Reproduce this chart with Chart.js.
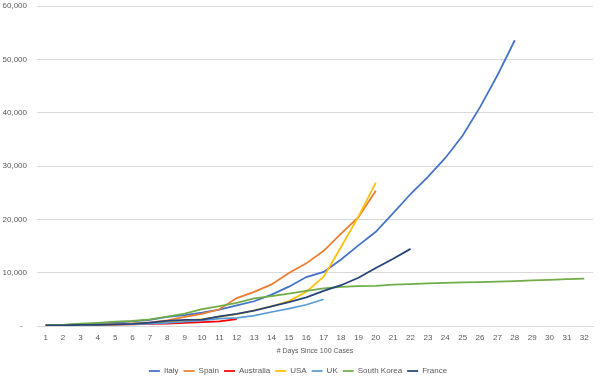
<!DOCTYPE html>
<html>
<head>
<meta charset="utf-8">
<script src="https://cdn.jsdelivr.net/npm/chart.js@4/dist/chart.umd.min.js"></script>
<style>
  html, body { margin: 0; padding: 0; background: #fff; }
  #wrap { width: 600px; height: 380px; }
</style>
</head>
<body>
<div id="wrap"><canvas id="casos"></canvas></div>
<script>
var dias = [1, 2, 3, 4, 5, 6, 7, 8, 9, 10, 11, 12, 13, 14, 15, 16,
  17, 18, 19, 20, 21, 22, 23, 24, 25, 26, 27, 28, 29, 30, 31, 32]

var italy = [155, 229, 322, 453, 655, 888, 1128, 1694, 2036, 2502, 3089, 3858, 4636, 5883,
  7375, 9172, 10149, 12462, 15113, 17660, 21157, 24747, 27980, 31506, 35713, 41035, 47021, 53578]
var spain = [120, 165, 222, 259, 400, 500, 673, 1073, 1695, 2277, 3146, 5232, 6391, 7798,
  9942, 11748, 14100, 17300, 20410, 25374]
var australia = [107, 128, 156, 197, 249, 298, 375, 454, 565, 709, 874, 1286]
var usa = [100, 124, 158, 221, 319, 435, 541, 704, 994, 1301, 1697, 2247, 2943, 3680,
  4663, 6411, 9259, 14800, 20500, 26868]
var uk = [115, 163, 206, 273, 321, 373, 456, 590, 797, 1061, 1391, 1543, 1950, 2626,
  3269, 3983, 5018]
var southKorea = [104, 204, 433, 602, 833, 977, 1261, 1766, 2337, 3150, 3736, 4335, 5186, 5621,
  6088, 6593, 7041, 7314, 7478, 7513, 7755, 7869, 7979, 8086, 8162, 8236, 8320, 8413,
  8565, 8652, 8799, 8897]
var france = [100, 130, 191, 204, 285, 377, 653, 949, 1126, 1209, 1784, 2281, 2876, 3661,
  4469, 5380, 6573, 7652, 9043, 10871, 12612, 14459]

var paises = ["Italy", "Spain", "Australia", "USA", "UK", "South Korea", "France"]
var colores = ["#4472C4", "#ED7D31", "#FF0000", "#FFC000", "#5B9BD5", "#70AD47", "#264478"]
var series = [italy, spain, australia, usa, uk, southKorea, france]

var gris = "#595959"
Chart.defaults.font.family = "'Liberation Sans', Arial, sans-serif"
Chart.defaults.color = gris

var datasets = series.map(function (d, i) {
  return {
    label: paises[i],
    data: d,
    borderColor: colores[i],
    backgroundColor: colores[i],
    borderWidth: 1.75,
    pointRadius: 0,
    tension: 0,
    // France on top, like the spreadsheet
    order: series.length - 1 - i
  }
})

var casos = new Chart(document.getElementById("casos"), {
  type: "line",
  data: { labels: dias, datasets: datasets },
  options: {
    responsive: true,
    maintainAspectRatio: false,
    animation: false,
    layout: { padding: { top: 0, right: 7, left: 3, bottom: -5 } },
    plugins: {
      tooltip: { enabled: false },
      legend: {
        position: "bottom",
        labels: {
          usePointStyle: true,
          pointStyle: "line",
          pointStyleWidth: 11,
          boxHeight: 8,
          padding: 5,
          font: { size: 8 },
          sort: function (a, b) { return a.datasetIndex - b.datasetIndex }
        }
      }
    },
    scales: {
      x: {
        offset: true,
        grid: { display: false, drawTicks: false },
        border: { color: "#d9d9d9" },
        ticks: { font: { size: 8 }, padding: 7, maxRotation: 0, autoSkip: false },
        title: {
          display: true,
          text: "# Days Since 100 Cases",
          font: { size: 7 },
          padding: { top: -3, bottom: 7 }
        }
      },
      y: {
        min: 0,
        max: 60000,
        grid: { color: "#d9d9d9", drawTicks: false },
        border: { display: false },
        afterFit: function (s) {
          s.width = 34
          s.paddingTop = 6
        },
        ticks: {
          stepSize: 10000,
          padding: 10,
          font: { size: 8 },
          callback: function (v) {
            if (v === 0) return "-  "
            return v.toLocaleString("en-US")
          }
        }
      }
    }
  }
})
</script>
</body>
</html>
